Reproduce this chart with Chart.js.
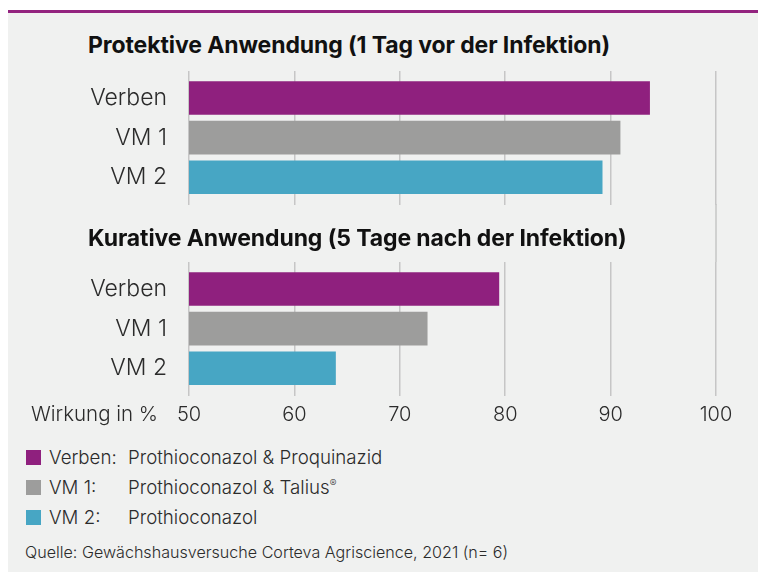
<!DOCTYPE html>
<html>
<head>
<meta charset="utf-8">
<script src="https://cdn.jsdelivr.net/npm/chart.js@4/dist/chart.umd.min.js"></script>
<style>
  html, body { margin: 0; padding: 0; background: #fff; }
  body { width: 758px; height: 572px; position: relative; overflow: hidden; font-family: Inter, sans-serif; }
  .panel { position: absolute; left: 8px; top: 10px; width: 750px; height: 562px; background: #f0f1f0; border-top: 3px solid #93237f; box-sizing: border-box; }
  .title { position: absolute; left: 88px; font-weight: 700; font-size: 23px; color: #111; white-space: nowrap; letter-spacing: -0.1px; }
  .cv { position: absolute; left: 20px; }
  .axis-name { position: absolute; left: 31px; top: 401px; font-size: 20.5px; font-weight: 300; color: #2b2b2b; }
  .legend { position: absolute; left: 26px; top: 442px; font-size: 18.7px; font-weight: 300; color: #2b2b2b; }
  .legend .row { height: 30px; display: flex; align-items: center; }
  .legend .box { width: 15px; height: 15px; margin-right: 8px; }
  .legend .name { width: 79px; }
  .source { position: absolute; left: 25px; top: 542px; font-size: 16.1px; font-weight: 300; color: #2b2b2b; white-space: nowrap; }
</style>
</head>
<body>
<div class="panel"></div>
<div class="title" id="title1" style="top:31px"></div>
<div class="cv" style="top:71px;width:738px;height:134px"><canvas id="topChart"></canvas></div>
<div class="cv" style="top:204px;width:738px;height:230px"><canvas id="bottomChart"></canvas></div>
<div class="title" id="title2" style="top:224px"></div>
<div class="axis-name">Wirkung in %</div>
<div class="legend" id="legend"></div>
<div class="source">Quelle: Gewächshausversuche Corteva Agriscience, 2021 (n= 6)</div>

<script>
// Daten
const categories = ['Verben', 'VM 1', 'VM 2'];
const protektivValues = [93.7, 90.9, 89.2];
const kurativValues = [79.4, 72.6, 63.9];
const xTicks = [50, 60, 70, 80, 90, 100];
const titles = ['Protektive Anwendung (1 Tag vor der Infektion)', 'Kurative Anwendung (5 Tage nach der Infektion)'];
const legendNames = ['Verben:', 'VM 1:', 'VM 2:'];
const legendDesc = ['Prothioconazol & Proquinazid', 'Prothioconazol & Talius<sup style="font-size:10px">®</sup>', 'Prothioconazol'];

const barColors = ['#8f207e', '#9d9d9c', '#47a6c4'];
const gridColor = '#c6c6c6';
const textColor = '#2b2b2b';

document.getElementById('title1').textContent = titles[0];
document.getElementById('title2').textContent = titles[1];

// Legende
document.getElementById('legend').innerHTML = legendNames.map((n, i) =>
  '<div class="row"><div class="box" style="background:' + barColors[i] + '"></div>' +
  '<div class="name">' + n + '</div><div>' + legendDesc[i] + '</div></div>'
).join('');

// 100er-Linie läuft durch bis zum oberen Diagramm
const fullLinePlugin = {
  id: 'fullLine',
  beforeDatasetsDraw(chart) {
    const x = chart.scales.x.getPixelForValue(xTicks[xTicks.length - 1]);
    const ctx = chart.ctx;
    ctx.save();
    ctx.strokeStyle = gridColor;
    ctx.lineWidth = 1.5;
    ctx.beginPath();
    ctx.moveTo(x, 0);
    ctx.lineTo(x, chart.chartArea.top);
    ctx.stroke();
    ctx.restore();
  }
};

function createChart(id, values, showTicks, topPad) {
  const ctx = document.getElementById(id).getContext('2d');
  return new Chart(ctx, {
    type: 'bar',
    data: {
      datasets: [{
        data: values.map((v, i) => ({ x: v, y: i })),
        backgroundColor: barColors,
        barThickness: 33
      }]
    },
    plugins: showTicks ? [fullLinePlugin] : [],
    options: {
      indexAxis: 'y',
      responsive: true,
      maintainAspectRatio: false,
      animation: false,
      layout: { padding: { top: topPad, right: 42, left: 0, bottom: 0 } },
      plugins: { legend: { display: false }, tooltip: { enabled: false } },
      scales: {
        x: {
          type: 'linear',
          min: xTicks[0],
          max: xTicks[xTicks.length - 1],
          border: { display: false },
          grid: { color: gridColor, lineWidth: 1.5, drawTicks: false },
          ticks: {
            display: showTicks,
            stepSize: 10,
            padding: 7,
            color: textColor,
            font: { family: 'Inter', size: 20, weight: 300 }
          }
        },
        y: {
          type: 'linear',
          reverse: true,
          offset: false,
          min: -0.68,
          max: 2.7,
          border: { display: false },
          grid: { display: false, drawTicks: false },
          afterFit: (scale) => {
            scale.width = 169;
            scale.paddingTop = 0;
            scale.paddingBottom = 0;
          },
          ticks: {
            stepSize: 1,
            includeBounds: false,
            padding: 22,
            color: textColor,
            font: { family: 'Inter', size: 23, weight: 300 },
            callback: (v) => categories[v] !== undefined ? categories[v] : ''
          }
        }
      }
    }
  });
}

createChart('topChart', protektivValues, false, 0);
createChart('bottomChart', kurativValues, true, 58);
</script>
</body>
</html>
